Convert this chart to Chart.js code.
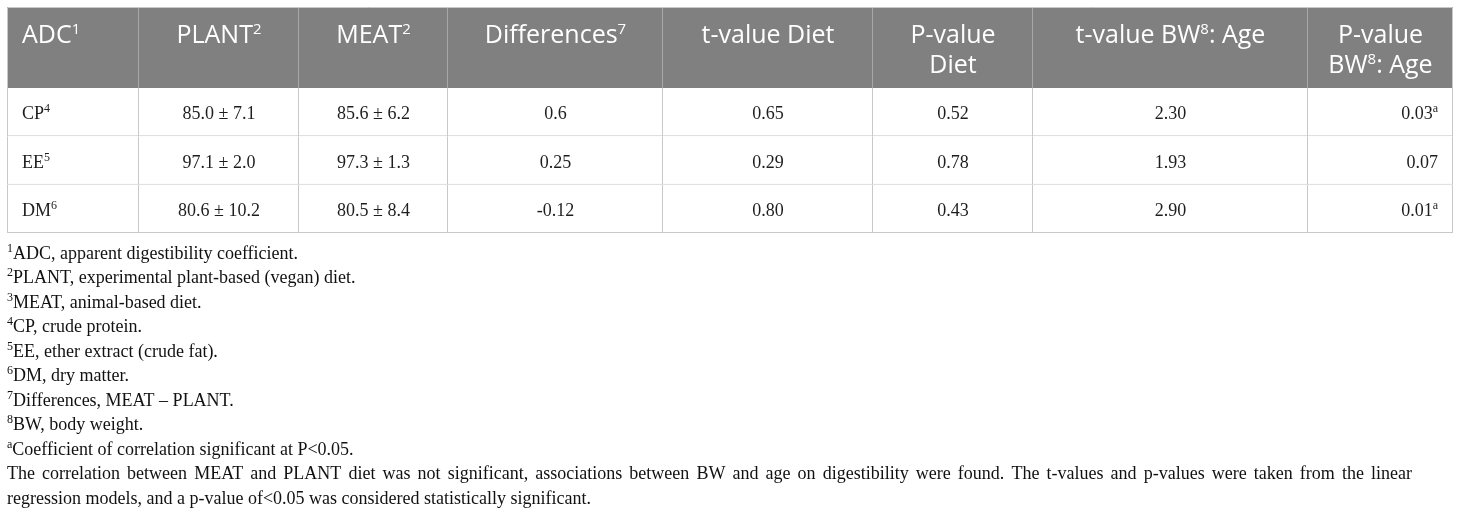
<!DOCTYPE html>
<html>
<head>
<meta charset="utf-8">
<script src="https://cdn.jsdelivr.net/npm/chart.js@4.4.1/dist/chart.umd.min.js"></script>
<style>
  html, body { margin: 0; padding: 0; background: #ffffff; }
  #wrap { width: 1460px; height: 518px; }
</style>
</head>
<body>
<div id="wrap"><canvas id="c" width="1460" height="518"></canvas></div>
<script>
// ---------------- DATA ----------------
const columns = ['ADC^{1}', 'PLANT^{2}', 'MEAT^{2}', 'Differences^{7}', 't-value Diet',
                 'P-value\nDiet', 't-value BW^{8}: Age', 'P-value\nBW^{8}: Age'];
const nutrients = ['CP^{4}', 'EE^{5}', 'DM^{6}'];
const plantMean = [85.0, 97.1, 80.6];
const plantSD   = [7.1, 2.0, 10.2];
const meatMean  = [85.6, 97.3, 80.5];
const meatSD    = [6.2, 1.3, 8.4];
const differences = [0.6, 0.25, -0.12];
const tDiet = [0.65, 0.29, 0.80];
const pDiet = [0.52, 0.78, 0.43];
const tBW   = [2.30, 1.93, 2.90];
const pBW   = [0.03, 0.07, 0.01];
const pBWmark = ['a', '', 'a'];
const footnotes = [
  ['1', 'ADC, apparent digestibility coefficient.'],
  ['2', 'PLANT, experimental plant-based (vegan) diet.'],
  ['3', 'MEAT, animal-based diet.'],
  ['4', 'CP, crude protein.'],
  ['5', 'EE, ether extract (crude fat).'],
  ['6', 'DM, dry matter.'],
  ['7', 'Differences, MEAT \u2013 PLANT.'],
  ['8', 'BW, body weight.'],
  ['a', 'Coefficient of correlation significant at P<0.05.']
];
const noteLines = [
  'The correlation between MEAT and PLANT diet was not significant, associations between BW and age on digestibility were found. The t-values and p-values were taken from the linear',
  'regression models, and a p-value of<0.05 was considered statistically significant.'
];

// ---------------- LAYOUT (sizes, not data) ----------------
const colWidths = [132, 160, 149, 215, 210, 160, 275, 145];
const headerHeight = 81;
const colAlign = ['left', 'center', 'center', 'center', 'center', 'center', 'center', 'right'];

// cell text for each body row / column
function cellText(r, c) {
  switch (c) {
    case 0: return nutrients[r];
    case 1: return plantMean[r].toFixed(1) + ' \u00b1 ' + plantSD[r].toFixed(1);
    case 2: return meatMean[r].toFixed(1) + ' \u00b1 ' + meatSD[r].toFixed(1);
    case 3: return String(differences[r]);
    case 4: return tDiet[r].toFixed(2);
    case 5: return pDiet[r].toFixed(2);
    case 6: return tBW[r].toFixed(2);
    case 7: return pBW[r].toFixed(2) + (pBWmark[r] ? '^{' + pBWmark[r] + '}' : '');
  }
}

function parseRich(s) {
  const parts = [];
  const re = /\^\{([^}]*)\}/g;
  let last = 0, m;
  while ((m = re.exec(s)) !== null) {
    if (m.index > last) parts.push({ t: s.slice(last, m.index), sup: false });
    parts.push({ t: m[1], sup: true });
    last = re.lastIndex;
  }
  if (last < s.length) parts.push({ t: s.slice(last), sup: false });
  return parts;
}

function drawRich(ctx, s, x, y, align, font, supFont, rise) {
  const parts = parseRich(s);
  let total = 0;
  parts.forEach(p => { ctx.font = p.sup ? supFont : font; p.w = ctx.measureText(p.t).width; total += p.w; });
  let cx = align === 'left' ? x : align === 'right' ? x - total : x - total / 2;
  ctx.textAlign = 'left';
  ctx.textBaseline = 'alphabetic';
  parts.forEach(p => {
    ctx.font = p.sup ? supFont : font;
    ctx.fillText(p.t, cx, p.sup ? y - rise : y);
    cx += p.w;
  });
}

const tablePlugin = {
  id: 'tablePlugin',
  afterDatasetsDraw(chart) {
    const ctx = chart.ctx;
    const area = chart.chartArea;
    const top = area.top - headerHeight;
    ctx.save();
    // header background
    ctx.fillStyle = '#808080';
    ctx.fillRect(area.left, top, area.right - area.left, headerHeight);
    ctx.strokeStyle = '#c8c8c8';
    ctx.lineWidth = 1;
    ctx.beginPath();
    ctx.moveTo(area.left + 0.5, area.top);
    ctx.lineTo(area.left + 0.5, top + 0.5);
    ctx.lineTo(area.right - 0.5, top + 0.5);
    ctx.lineTo(area.right - 0.5, area.top);
    ctx.stroke();
    // header separators + text
    const pad = 15;
    columns.forEach((label, c) => {
      const el = chart.getDatasetMeta(c).data[0];
      const x0 = Math.min(el.base, el.x), x1 = Math.max(el.base, el.x);
      if (c > 0) {
        ctx.strokeStyle = '#a8a8a8';
        ctx.beginPath();
        ctx.moveTo(Math.round(x0) - 0.5, top + 1);
        ctx.lineTo(Math.round(x0) - 0.5, area.top);
        ctx.stroke();
      }
      ctx.fillStyle = '#ffffff';
      const lines = label.split('\n');
      const ax = colAlign[c] === 'left' ? x0 + pad : colAlign[c] === 'right' ? x1 - pad : (x0 + x1) / 2;
      const hAlign = c === 0 ? 'left' : 'center';
      const hx = c === 0 ? x0 + pad : (x0 + x1) / 2;
      lines.forEach((ln, i) => {
        drawRich(ctx, ln, hx, top + 36 + i * 30, hAlign, '25px "Open Sans"', '15px "Open Sans"', 9);
      });
      // body cells
      ctx.fillStyle = '#1e1e1e';
      nutrients.forEach((_, r) => {
        const e = chart.getDatasetMeta(c).data[r];
        drawRich(ctx, cellText(r, c), ax, Math.round(e.y) + 7, colAlign[c],
                 '18px "Liberation Serif"', '12px "Liberation Serif"', 7);
      });
    });
    // footnotes
    ctx.fillStyle = '#111111';
    const fx = area.left;
    let by = area.bottom + 25.5;
    const step = 24.5;
    footnotes.forEach(([mark, text]) => {
      ctx.font = '12px "Liberation Serif"';
      ctx.textAlign = 'left';
      ctx.textBaseline = 'alphabetic';
      ctx.fillText(mark, fx, by - 7);
      const mw = ctx.measureText(mark).width;
      ctx.font = '18px "Liberation Serif"';
      ctx.fillText(text, fx + mw, by);
      by += step;
    });
    // paragraph: first line justified
    ctx.font = '18px "Liberation Serif"';
    const words = noteLines[0].split(' ');
    const target = 1405;
    let sum = 0;
    words.forEach(w => sum += ctx.measureText(w).width);
    const gap = (target - sum) / (words.length - 1);
    let wx = fx;
    words.forEach(w => { ctx.fillText(w, wx, by); wx += ctx.measureText(w).width + gap; });
    by += step;
    ctx.fillText(noteLines[1], fx, by);
    ctx.restore();
  }
};

const datasets = columns.map((label, c) => ({
  label: label,
  data: nutrients.map(() => colWidths[c]),
  backgroundColor: '#ffffff',
  borderColor: '#c8c8c8',
  borderWidth: { left: c === 0 ? 1 : 0, right: 1, bottom: 1, top: 0 },
  borderSkipped: false,
  barPercentage: 1,
  categoryPercentage: 1,
  inflateAmount: 0
}));

new Chart(document.getElementById('c'), {
  type: 'bar',
  data: { labels: nutrients, datasets: datasets },
  options: {
    indexAxis: 'y',
    responsive: false,
    animation: false,
    events: [],
    layout: { padding: { left: 7, right: 7, top: 88, bottom: 285 } },
    plugins: { legend: { display: false }, tooltip: { enabled: false } },
    scales: {
      x: { type: 'linear', stacked: true, min: 0, max: colWidths.reduce((a, b) => a + b, 0), display: false },
      y: { type: 'category', stacked: true, display: false }
    }
  },
  plugins: [tablePlugin]
});
</script>
</body>
</html>
